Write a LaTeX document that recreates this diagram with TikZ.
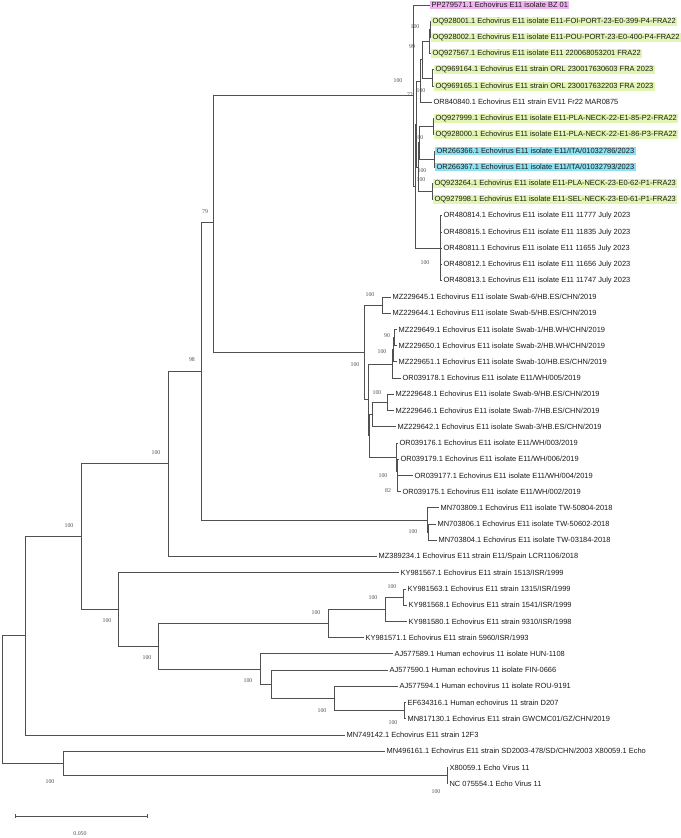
\documentclass[tikz,border=0pt]{standalone}
\usepackage{fontspec}
\setmainfont{Liberation Serif}
\newfontfamily\taxonfont{Liberation Sans}
\usetikzlibrary{arrows.meta}
\definecolor{bzpink}{RGB}{242,178,242}
\definecolor{fragreen}{RGB}{226,245,178}
\definecolor{itacyan}{RGB}{140,226,242}
\definecolor{branchgrey}{RGB}{80,80,80}

\begin{document}
\begin{tikzpicture}[x=0.75pt,y=-12.165pt,
  taxon/.style={anchor=west,inner xsep=1pt,inner ysep=0.8pt,text=black!90,font=\taxonfont\fontsize{5.6}{6}\selectfont},
  fra/.style={taxon,fill=fragreen},
  ita/.style={taxon,fill=itacyan},
  bzl/.style={taxon,fill=bzpink},
  boot/.style={inner sep=0pt,text=black!70,font=\fontsize{4.4}{5}\selectfont},
  branch/.style={draw=branchgrey,line width=0.6pt}]
\useasboundingbox (0,0.6917) rectangle (681,52.357);

\node[bzl] (l1) at (430,1) {PP279571.1 Echovirus E11 isolate BZ 01};
\node[fra] (l2) at (431,2) {OQ928001.1 Echovirus E11 isolate E11-FOI-PORT-23-E0-399-P4-FRA22};
\node[fra] (l3) at (431,3) {OQ928002.1 Echovirus E11 isolate E11-POU-PORT-23-E0-400-P4-FRA22};
\node[fra] (l4) at (431,4) {OQ927567.1 Echovirus E11 isolate E11 220068053201 FRA22};
\node[fra] (l5) at (434,5) {OQ969164.1 Echovirus E11 strain ORL 230017630603 FRA 2023};
\node[fra] (l6) at (434,6) {OQ969165.1 Echovirus E11 strain ORL 230017632203 FRA 2023};
\node[taxon] (l7) at (432,7) {OR840840.1 Echovirus E11 strain EV11 Fr22 MAR0875};
\node[fra] (l8) at (434,8) {OQ927999.1 Echovirus E11 isolate E11-PLA-NECK-22-E1-85-P2-FRA22};
\node[fra] (l9) at (434,9) {OQ928000.1 Echovirus E11 isolate E11-PLA-NECK-22-E1-86-P3-FRA22};
\node[ita] (l10) at (435,10) {OR266366.1 Echovirus E11 isolate E11/ITA/01032786/2023};
\node[ita] (l11) at (435,11) {OR266367.1 Echovirus E11 isolate E11/ITA/01032793/2023};
\node[fra] (l12) at (433,12) {OQ923264.1 Echovirus E11 isolate E11-PLA-NECK-23-E0-62-P1-FRA23};
\node[fra] (l13) at (433,13) {OQ927998.1 Echovirus E11 isolate E11-SEL-NECK-23-E0-61-P1-FRA23};
\node[taxon] (l14) at (442,14) {OR480814.1 Echovirus E11 isolate E11 11777 July 2023};
\node[taxon] (l15) at (442,15) {OR480815.1 Echovirus E11 isolate E11 11835 July 2023};
\node[taxon] (l16) at (442,16) {OR480811.1 Echovirus E11 isolate E11 11655 July 2023};
\node[taxon] (l17) at (442,17) {OR480812.1 Echovirus E11 isolate E11 11656 July 2023};
\node[taxon] (l18) at (442,18) {OR480813.1 Echovirus E11 isolate E11 11747 July 2023};
\node[taxon] (l19) at (391,19) {MZ229645.1 Echovirus E11 isolate Swab-6/HB.ES/CHN/2019};
\node[taxon] (l20) at (391,20) {MZ229644.1 Echovirus E11 isolate Swab-5/HB.ES/CHN/2019};
\node[taxon] (l21) at (397,21) {MZ229649.1 Echovirus E11 isolate Swab-1/HB.WH/CHN/2019};
\node[taxon] (l22) at (397,22) {MZ229650.1 Echovirus E11 isolate Swab-2/HB.WH/CHN/2019};
\node[taxon] (l23) at (397,23) {MZ229651.1 Echovirus E11 isolate Swab-10/HB.ES/CHN/2019};
\node[taxon] (l24) at (401,24) {OR039178.1 Echovirus E11 isolate E11/WH/005/2019};
\node[taxon] (l25) at (394,25) {MZ229648.1 Echovirus E11 isolate Swab-9/HB.ES/CHN/2019};
\node[taxon] (l26) at (394,26) {MZ229646.1 Echovirus E11 isolate Swab-7/HB.ES/CHN/2019};
\node[taxon] (l27) at (396,27) {MZ229642.1 Echovirus E11 isolate Swab-3/HB.ES/CHN/2019};
\node[taxon] (l28) at (398,28) {OR039176.1 Echovirus E11 isolate E11/WH/003/2019};
\node[taxon] (l29) at (399,29) {OR039179.1 Echovirus E11 isolate E11/WH/006/2019};
\node[taxon] (l30) at (413,30) {OR039177.1 Echovirus E11 isolate E11/WH/004/2019};
\node[taxon] (l31) at (401,31) {OR039175.1 Echovirus E11 isolate E11/WH/002/2019};
\node[taxon] (l32) at (439,32) {MN703809.1 Echovirus E11 isolate TW-50804-2018};
\node[taxon] (l33) at (436,33) {MN703806.1 Echovirus E11 isolate TW-50602-2018};
\node[taxon] (l34) at (437,34) {MN703804.1 Echovirus E11 isolate TW-03184-2018};
\node[taxon] (l35) at (377,35) {MZ389234.1 Echovirus E11 strain E11/Spain LCR1106/2018};
\node[taxon] (l36) at (399,36) {KY981567.1 Echovirus E11 strain 1513/ISR/1999};
\node[taxon] (l37) at (406,37) {KY981563.1 Echovirus E11 strain 1315/ISR/1999};
\node[taxon] (l38) at (407,38) {KY981568.1 Echovirus E11 strain 1541/ISR/1999};
\node[taxon] (l39) at (407,39) {KY981580.1 Echovirus E11 strain 9310/ISR/1998};
\node[taxon] (l40) at (364,40) {KY981571.1 Echovirus E11 strain 5960/ISR/1993};
\node[taxon] (l41) at (393,41) {AJ577589.1 Human echovirus 11 isolate HUN-1108};
\node[taxon] (l42) at (388,42) {AJ577590.1 Human echovirus 11 isolate FIN-0666};
\node[taxon] (l43) at (398,43) {AJ577594.1 Human echovirus 11 isolate ROU-9191};
\node[taxon] (l44) at (406,44) {EF634316.1 Human echovirus 11 strain D207};
\node[taxon] (l45) at (406,45) {MN817130.1 Echovirus E11 strain GWCMC01/GZ/CHN/2019};
\node[taxon] (l46) at (345,46) {MN749142.1 Echovirus E11 strain 12F3};
\node[taxon] (l47) at (385,47) {MN496161.1 Echovirus E11 strain SD2003-478/SD/CHN/2003 X80059.1 Echo};
\node[taxon] (l48) at (448,48) {X80059.1 Echo Virus 11};
\node[taxon] (l49) at (448,49) {NC 075554.1 Echo Virus 11};

\coordinate (root) at (2,43.82);
\coordinate (n25) at (25,39.89);
\coordinate (n81) at (81,33.77);
\coordinate (n168) at (168,29.28);
\coordinate (n201) at (201,23.56);
\coordinate (n213) at (213,14.38);
\coordinate (nR) at (413,6.59);
\coordinate (nS) at (415,12.17);
\coordinate (nK) at (416.5,8.34);
\coordinate (nE) at (420,5.69);
\coordinate (nD) at (422.5,4.38);
\coordinate (nB) at (429,3.25);
\coordinate (nA) at (430,2.5);
\coordinate (nC) at (432,5.5);
\coordinate (nV) at (418,11);
\coordinate (nI) at (419.5,9.5);
\coordinate (nF) at (433,8.5);
\coordinate (nG) at (434,10.5);
\coordinate (nH) at (432,12.5);
\coordinate (nL) at (440,16);
\coordinate (nC0) at (364,22.42);
\coordinate (nP1) at (382,19.5);
\coordinate (nC1) at (368,25.34);
\coordinate (nQ3) at (392,23.13);
\coordinate (nQ2) at (393,22.25);
\coordinate (nQ1) at (394.5,21.5);
\coordinate (nC2) at (369.5,27.56);
\coordinate (nM2) at (372,26.25);
\coordinate (nM1) at (387,25.5);
\coordinate (nG1) at (396,28.88);
\coordinate (nG1b) at (397,29.75);
\coordinate (nG2) at (397.5,30.5);
\coordinate (nT1) at (427,32.75);
\coordinate (nT2) at (428,33.5);
\coordinate (n118) at (118,38.27);
\coordinate (n158) at (158,40.53);
\coordinate (n328) at (328,39.13);
\coordinate (n385) at (385,38.25);
\coordinate (n403) at (403,37.5);
\coordinate (n260) at (260,41.94);
\coordinate (n270) at (271,42.88);
\coordinate (n334) at (334,43.75);
\coordinate (n404) at (404,44.5);
\coordinate (n63) at (63,47.75);
\coordinate (n447) at (447,48.5);

\foreach \p/\c in {root/n25,root/n63,n25/n81,n25/l46,n81/n168,n81/n118,
    n168/n201,n168/l35,n201/n213,n201/nT1,n213/nR,n213/nC0,
    nR/l1,nR/nS,nS/nK,nS/nL,nK/nE,nK/nV,nE/nD,nE/l7,nD/nB,nD/nC,
    nB/nA,nB/l4,nA/l2,nA/l3,nC/l5,nC/l6,nV/nI,nV/nH,nI/nF,nI/nG,
    nF/l8,nF/l9,nG/l10,nG/l11,nH/l12,nH/l13,
    nL/l14,nL/l15,nL/l16,nL/l17,nL/l18,
    nC0/nP1,nC0/nC1,nP1/l19,nP1/l20,nC1/nQ3,nC1/nC2,nQ3/nQ2,nQ3/l24,
    nQ2/nQ1,nQ2/l23,nQ1/l21,nQ1/l22,nC2/nM2,nC2/nG1,nM2/nM1,nM2/l27,
    nM1/l25,nM1/l26,nG1/l28,nG1/nG1b,nG1b/l29,nG1b/nG2,nG2/l30,nG2/l31,
    nT1/l32,nT1/nT2,nT2/l33,nT2/l34,
    n118/l36,n118/n158,n158/n328,n158/n260,n328/n385,n328/l40,
    n385/n403,n385/l39,n403/l37,n403/l38,
    n260/l41,n260/n270,n270/l42,n270/n334,n334/l43,n334/n404,n404/l44,n404/l45,
    n63/l47,n63/n447,n447/l48,n447/l49}
  \draw[branch] (\p) |- (\c);

\foreach \x/\y/\v [count=\k] in {398/5.69/100,415/2.36/100,412/3.59/99,410/6.55/72,
    421/6.30/100,419/9.20/100,422/11.23/100,421/11.79/100,425/16.85/100,
    370/18.88/100,387/21.41/90,382/22.39/100,355/23.19/100,377/24.92/100,
    383/30.04/100,388/30.96/82,413/33.49/100,205/13.76/79,192/22.89/98,
    156/28.62/100,69/33.12/100,107/38.98/100,147/41.26/100,316/38.48/100,
    373/37.56/100,392/36.88/100,248/42.68/100,322/44.53/100,393/45.27/100,
    50/48.90/100,436/49.52/100}
  \node[boot] (bs\k) at (\x,\y) {\v};

\coordinate (sbl) at (15,51);
\coordinate (sbr) at (148,51);
\draw[branch,{Bar[width=3pt]}-{Bar[width=3pt]}] (sbl) -- (sbr);
\node[boot] (sblabel) at (80,52.11) {0.050};
\end{tikzpicture}
\end{document}
